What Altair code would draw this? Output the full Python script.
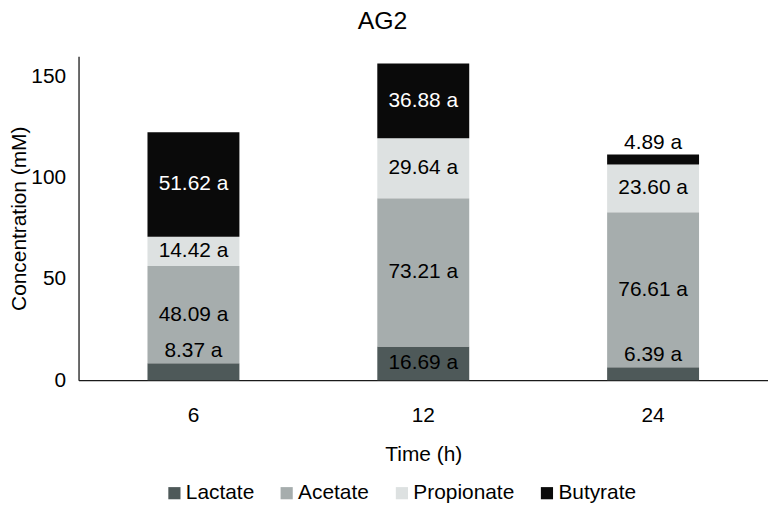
import altair as alt
import pandas as pd

times = ["6", "12", "24"]
acids = ["Lactate", "Acetate", "Propionate", "Butyrate"]
lactate = [8.37, 16.69, 6.39]
acetate = [48.09, 73.21, 76.61]
propionate = [14.42, 29.64, 23.60]
butyrate = [51.62, 36.88, 4.89]
colors = ["#4e5959", "#a6adad", "#dde1e1", "#0a0a0a"]

series = [lactate, acetate, propionate, butyrate]
rows = []
for k, (acid, vals) in enumerate(zip(acids, series)):
    for t, v in zip(times, vals):
        rows.append({"Time": t, "Acid": acid, "Value": v, "ord": k})
df = pd.DataFrame(rows)

FONT = "Liberation Sans"
FS = 21
YT = "Concentration (mM)"

x = alt.X("Time:N", sort=times,
          scale=alt.Scale(paddingInner=0.6, paddingOuter=0.3),
          axis=alt.Axis(title="Time (h)", labelAngle=0, ticks=False,
                        labelPadding=25, titlePadding=18))
yscale = alt.Scale(domain=[0, 160], nice=False)
yaxis = alt.Axis(title=YT, values=[0, 50, 100, 150], ticks=False,
                 labelPadding=13, titlePadding=1, grid=False)

bars = alt.Chart(df).mark_bar().encode(
    x=x,
    y=alt.Y("Value:Q", stack="zero", scale=yscale, axis=yaxis, title=YT),
    color=alt.Color("Acid:N", sort=acids,
                    scale=alt.Scale(domain=acids, range=colors),
                    legend=alt.Legend(orient="none", direction="horizontal",
                                      legendX=86, legendY=429, columns=4,
                                      title=None, symbolType="square",
                                      symbolSize=150, symbolStrokeWidth=0,
                                      symbolOpacity=1, labelFontSize=FS,
                                      labelFont=FONT, labelColor="black",
                                      labelOffset=1, columnPadding=22)),
    order=alt.Order("ord:Q", sort="ascending"),
)

base = alt.Chart(df).transform_window(
    cum="sum(Value)", groupby=["Time"], sort=[alt.SortField("ord")],
    frame=[None, 0]
).transform_calculate(
    mid="datum.cum - datum.Value / 2",
    lbl="format(datum.Value, '.2f') + ' a'",
)

inside = base.transform_filter("datum.Value >= 10").mark_text(
    fontSize=FS, font=FONT, baseline="middle"
).encode(
    x=x,
    y=alt.Y("mid:Q", scale=yscale, axis=yaxis, title=YT),
    text="lbl:N",
    color=alt.condition(alt.datum.Acid == "Butyrate", alt.value("white"), alt.value("black")),
)

outside = base.transform_filter("datum.Value < 10").mark_text(
    fontSize=FS, font=FONT, baseline="bottom", dy=-2
).encode(
    x=x,
    y=alt.Y("cum:Q", scale=yscale, axis=yaxis, title=YT),
    text="lbl:N",
    color=alt.value("black"),
)

chart = alt.layer(bars, inside, outside).properties(
    width=694, height=326, padding=0,
    title=alt.TitleParams("AG2", fontSize=25, font=FONT, fontWeight="normal",
                          color="black", anchor="middle", frame="bounds",
                          offset=22, dx=-6),
).configure_axis(
    labelFont=FONT, titleFont=FONT, labelFontSize=FS, titleFontSize=FS,
    labelColor="black", titleColor="black", titleFontWeight="normal",
    domainColor="#1a1a1a", domainWidth=1.3,
).configure_view(stroke=None)

chart.save("out.html", embed_options={"renderer": "svg", "actions": False})
